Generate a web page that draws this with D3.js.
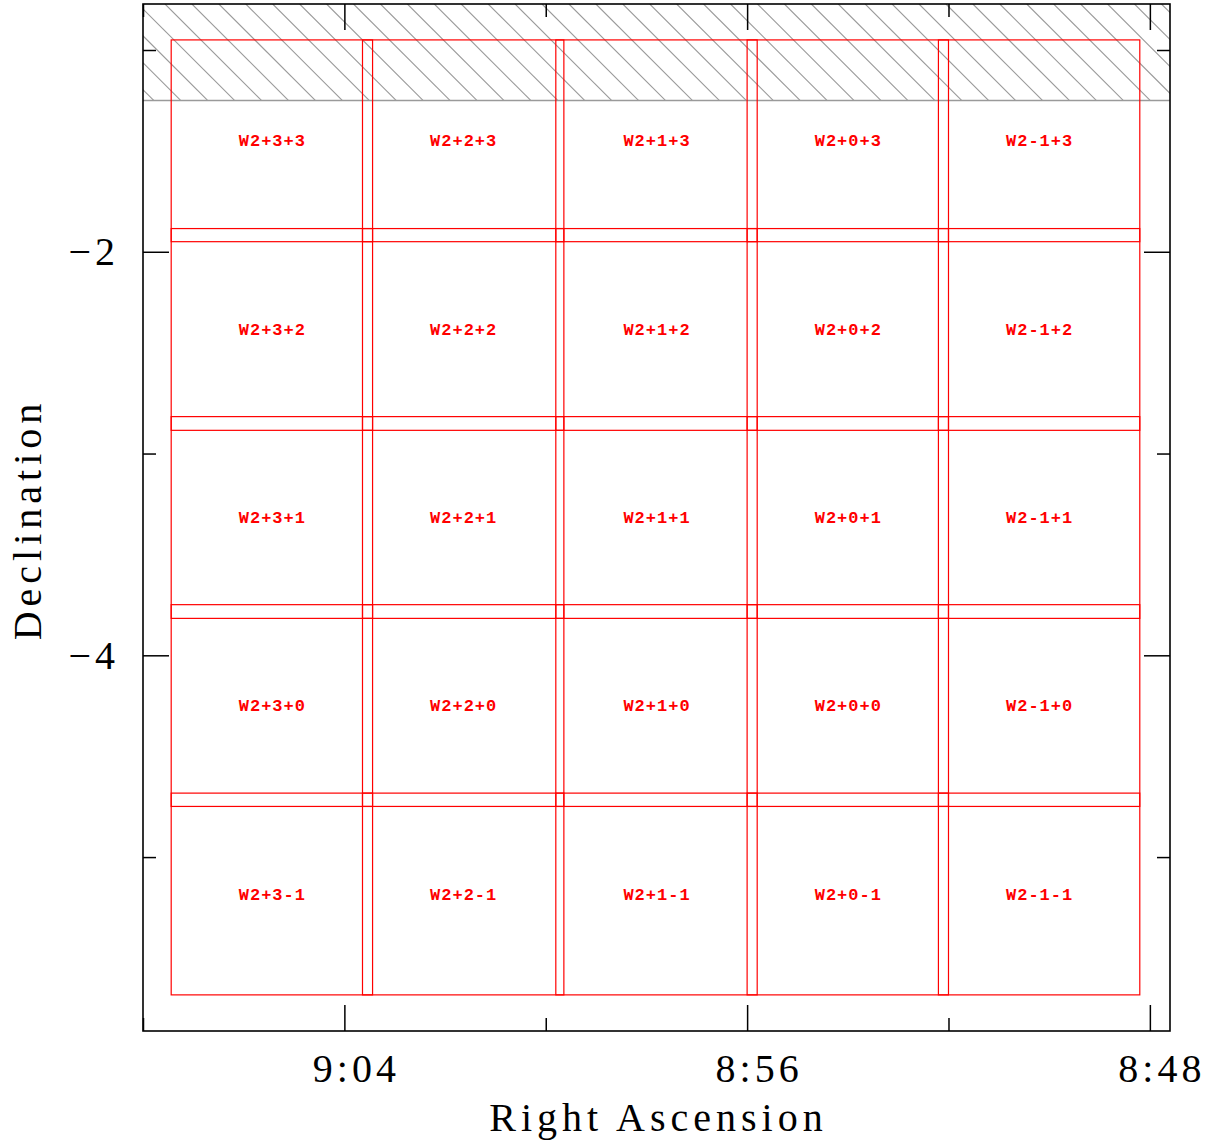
<!DOCTYPE html>
<html>
<head>
<meta charset="utf-8">
<script src="https://cdn.jsdelivr.net/npm/d3@7"></script>
<style>
  body { margin: 0; background: #fff; }
  svg { display: block; }
</style>
</head>
<body>
<div id="chart"></div>
<script>
// tile centres (degrees) and their names
var tileRA = [136.36, 135.41, 134.45, 133.50, 132.55];
var tileDec = [-1.45, -2.385, -3.317, -4.249, -5.183];
var colNames = ["+3", "+2", "+1", "+0", "-1"];
var rowNames = ["+3", "+2", "+1", "+0", "-1"];
var tileSize = 1.0; // degrees

// region north of this declination is masked (hatched)
var maskDec = -1.25;

// axis ticks
var raMajor = [136, 134, 132];
var raMinor = [137, 135, 133];
var decMajor = [-2, -4];
var decMinor = [-1, -3, -5];

var xDomain = [137.0, 131.9];
var yDomain = [-0.772, -5.862];

function init() {
    var w = 1215;
    var h = 1144;
    var left = 143, top = 4, size = 1027;

    var x = d3.scaleLinear().domain(xDomain).range([left, left + size]);
    var y = d3.scaleLinear().domain(yDomain).range([top, top + size]);

    var svg = d3.select("#chart")
        .append("svg")
        .attr("width", w)
        .attr("height", h);

    svg.append("clipPath").attr("id", "plotclip")
        .append("rect")
        .attr("x", left).attr("y", top)
        .attr("width", size).attr("height", size);

    // hatched mask
    var maskTop = y(yDomain[0]);
    var maskBottom = y(maskDec);
    var hatch = svg.append("g").attr("clip-path", "url(#plotclip)");
    hatch.append("clipPath").attr("id", "maskclip")
        .append("rect")
        .attr("x", left).attr("y", maskTop)
        .attr("width", size).attr("height", maskBottom - maskTop);
    var step = 26.93;
    var offs = d3.range(-6, 40).map(function(k) { return left + 22 - top + k * step; });
    hatch.append("g").attr("clip-path", "url(#maskclip)")
        .selectAll("line")
        .data(offs)
        .enter()
        .append("line")
        .attr("x1", function(c) { return c + maskTop; })
        .attr("y1", maskTop)
        .attr("x2", function(c) { return c + maskBottom; })
        .attr("y2", maskBottom)
        .attr("stroke", "#9a9a9a")
        .attr("stroke-width", 1.1);
    hatch.append("line")
        .attr("x1", left).attr("x2", left + size)
        .attr("y1", maskBottom).attr("y2", maskBottom)
        .attr("stroke", "#9a9a9a")
        .attr("stroke-width", 1.5);

    // tiles
    var tiles = [];
    rowNames.forEach(function(r, j) {
        colNames.forEach(function(c, i) {
            tiles.push({ name: "W2" + c + r, ra: tileRA[i], dec: tileDec[j] });
        });
    });

    var g = svg.append("g");
    g.selectAll("rect.tile")
        .data(tiles)
        .enter()
        .append("rect")
        .attr("class", "tile")
        .attr("x", function(d) { return x(d.ra + tileSize / 2); })
        .attr("y", function(d) { return y(d.dec + tileSize / 2); })
        .attr("width", function(d) { return x(d.ra - tileSize / 2) - x(d.ra + tileSize / 2); })
        .attr("height", function(d) { return y(d.dec - tileSize / 2) - y(d.dec + tileSize / 2); })
        .attr("fill", "none")
        .attr("stroke", "#ff0000")
        .attr("stroke-width", 1.2);

    g.selectAll("text.tile")
        .data(tiles)
        .enter()
        .append("text")
        .attr("class", "tile")
        .attr("x", function(d) { return x(d.ra) + 0.5; })
        .attr("y", function(d) { return y(d.dec); })
        .attr("dy", "0.33em")
        .attr("text-anchor", "middle")
        .attr("font-family", "Liberation Mono, monospace")
        .attr("font-weight", "bold")
        .attr("font-size", 17)
        .attr("letter-spacing", 1)
        .attr("fill", "#ff0000")
        .text(function(d) { return d.name; });

    // frame
    svg.append("rect")
        .attr("x", left).attr("y", top)
        .attr("width", size).attr("height", size)
        .attr("fill", "none")
        .attr("stroke", "#000")
        .attr("stroke-width", 1.6);

    function raFmt(d) {
        var hrs = d / 15;
        var hh = Math.floor(hrs + 1e-9);
        var mm = Math.round((hrs - hh) * 60);
        return hh + ":" + (mm < 10 ? "0" : "") + mm;
    }
    function decFmt(d) {
        return d < 0 ? "\u2212" + Math.abs(d) : "" + d;
    }

    // inward ticks on all four sides
    function ticks(axisFn, scale, vals, len, tx) {
        return svg.append("g")
            .attr("transform", tx)
            .call(axisFn(scale).tickValues(vals).tickSize(len).tickFormat(""))
            .call(function(s) {
                s.select(".domain").remove();
                s.selectAll("line").attr("stroke", "#000").attr("stroke-width", 1.5);
            });
    }
    ticks(d3.axisBottom, x, raMajor, -26, "translate(0," + (top + size) + ")");
    ticks(d3.axisBottom, x, raMinor, -13, "translate(0," + (top + size) + ")");
    ticks(d3.axisTop, x, raMajor, -26, "translate(0," + top + ")");
    ticks(d3.axisTop, x, raMinor, -13, "translate(0," + top + ")");
    ticks(d3.axisLeft, y, decMajor, -26, "translate(" + left + ",0)");
    ticks(d3.axisLeft, y, decMinor, -13, "translate(" + left + ",0)");
    ticks(d3.axisRight, y, decMajor, -26, "translate(" + (left + size) + ",0)");
    ticks(d3.axisRight, y, decMinor, -13, "translate(" + (left + size) + ",0)");

    var font = "Liberation Serif, Times New Roman, serif";

    svg.append("g").selectAll("text")
        .data(raMajor)
        .enter()
        .append("text")
        .attr("x", function(d) { return x(d) + 12; })
        .attr("y", top + size + 51)
        .attr("text-anchor", "middle")
        .attr("font-family", font)
        .attr("font-size", 40)
        .attr("letter-spacing", 4)
        .text(raFmt);

    svg.append("g").selectAll("text")
        .data(decMajor)
        .enter()
        .append("text")
        .attr("x", left - 24)
        .attr("y", function(d) { return y(d); })
        .attr("dy", "0.33em")
        .attr("text-anchor", "end")
        .attr("font-family", font)
        .attr("font-size", 40)
        .attr("letter-spacing", 4)
        .text(decFmt);

    svg.append("text")
        .attr("x", left + size / 2 + 2)
        .attr("y", 1131)
        .attr("text-anchor", "middle")
        .attr("font-family", font)
        .attr("font-size", 40)
        .attr("letter-spacing", 5)
        .text("Right Ascension");

    svg.append("text")
        .attr("transform", "translate(41," + (top + size / 2 + 2) + ") rotate(-90)")
        .attr("text-anchor", "middle")
        .attr("font-family", font)
        .attr("font-size", 40)
        .attr("letter-spacing", 5)
        .text("Declination");
}

window.onload = init;
</script>
</body>
</html>
